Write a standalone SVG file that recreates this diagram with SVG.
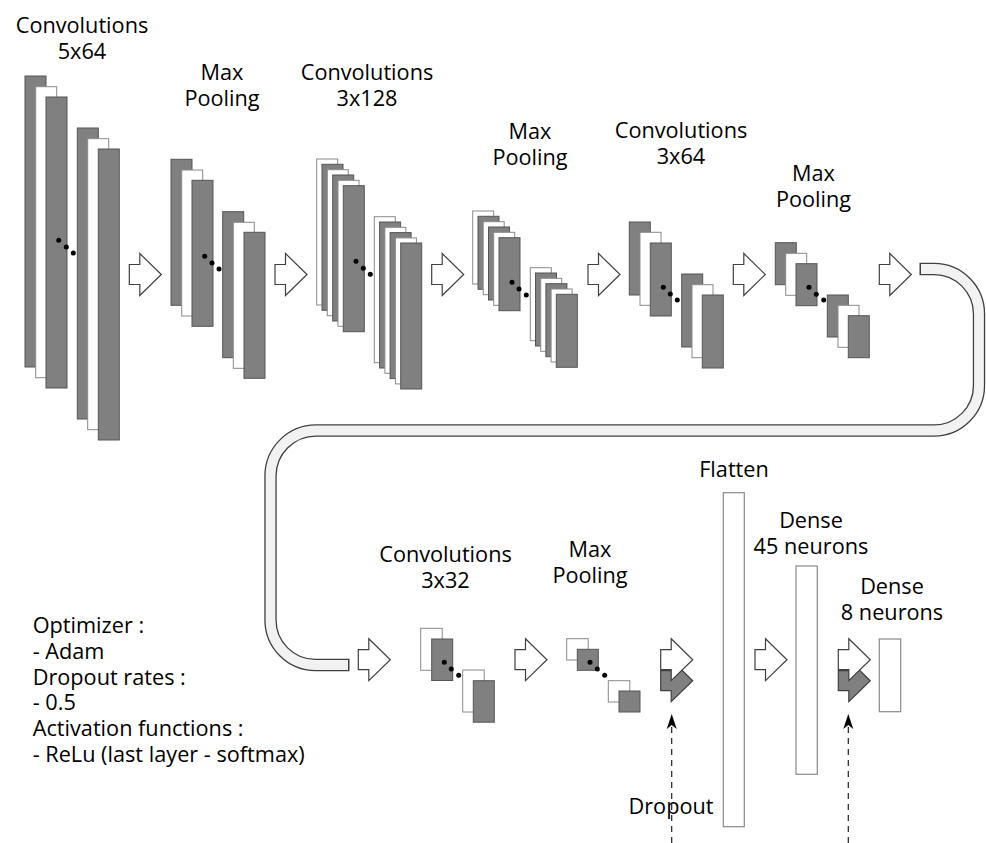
<svg xmlns="http://www.w3.org/2000/svg" xmlns:xlink="http://www.w3.org/1999/xlink" width="986" height="843" viewBox="0 0 986 843">
<style>
text{font-family:"Open Sans","Noto Sans","DejaVu Sans",sans-serif;font-size:21.7px;fill:#000;}
.c{text-anchor:middle;}
.g{fill:#808080;stroke:#555;stroke-width:1;}
.w{fill:#fff;stroke:#8a8a8a;stroke-width:1;}
.v{fill:#fff;stroke:#8a8a8a;stroke-width:1.2;}
.d{fill:#000;}
.ar{fill:#fff;stroke:#404040;stroke-width:1.2;stroke-linejoin:miter;}
.ag{fill:#808080;stroke:#404040;stroke-width:1.2;}
.dash{stroke:#222;stroke-width:1.2;stroke-dasharray:6 5;fill:none;}
</style>
<defs>
<path id="arr" d="M0,-10 H10.5 V-21 L32,0 L10.5,21 V10 H0 Z"/>
<path id="stealth" d="M0,0 L5,15 L0,11 L-5,15 Z"/>
</defs>

<g id="connectors">
<path d="M919.5,269 H934 A45,45 0 0 1 979,314 V385.5 A45,45 0 0 1 934,430.5 H316 A45.5,45.5 0 0 0 270.5,476 V620 A45,45 0 0 0 315.5,665 H349.5" fill="none" stroke="#404040" stroke-width="12.4"/>
<path d="M921,269 H934 A45,45 0 0 1 979,314 V385.5 A45,45 0 0 1 934,430.5 H316 A45.5,45.5 0 0 0 270.5,476 V620 A45,45 0 0 0 315.5,665 H348" fill="none" stroke="#f2f2f2" stroke-width="9.8"/>
<use xlink:href="#arr" class="ar" transform="translate(129.3,274.5)"/>
<use xlink:href="#arr" class="ar" transform="translate(275,274.5)"/>
<use xlink:href="#arr" class="ar" transform="translate(431.7,274.5)"/>
<use xlink:href="#arr" class="ar" transform="translate(588,274.5)"/>
<use xlink:href="#arr" class="ar" transform="translate(733.3,274.5)"/>
<use xlink:href="#arr" class="ar" transform="translate(879.3,274.5)"/>
<use xlink:href="#arr" class="ar" transform="translate(358.3,659.7)"/>
<use xlink:href="#arr" class="ar" transform="translate(515,659.7)"/>
<use xlink:href="#arr" class="ag" transform="translate(660.7,680.7)"/>
<use xlink:href="#arr" class="ar" transform="translate(660.7,659.7)"/>
<use xlink:href="#arr" class="ar" transform="translate(755,659.7)"/>
<use xlink:href="#arr" class="ag" transform="translate(838.3,680.7)"/>
<use xlink:href="#arr" class="ar" transform="translate(838.3,659.7)"/>
<line class="dash" x1="671.7" y1="843" x2="671.7" y2="726"/>
<use xlink:href="#stealth" transform="translate(671.7,714)" fill="#000"/>
<line class="dash" x1="848.3" y1="843" x2="848.3" y2="726"/>
<use xlink:href="#stealth" transform="translate(848.3,714)" fill="#000"/>
</g>

<g id="conv1">
<text class="c" x="82" y="33">Convolutions</text>
<text class="c" x="82" y="59">5x64</text>
<rect class="g" x="25" y="76" width="21" height="291"/>
<rect class="w" x="35.7" y="86.7" width="21" height="291"/>
<rect class="g" x="46" y="97" width="21" height="291"/>
<rect class="g" x="77.3" y="128" width="21" height="291"/>
<rect class="w" x="87.7" y="138.7" width="21" height="291"/>
<rect class="g" x="98.3" y="149" width="21" height="291"/>
<circle class="d" cx="58.7" cy="240.3" r="2.5"/><circle class="d" cx="66.3" cy="247" r="2.5"/><circle class="d" cx="73.3" cy="253" r="2.5"/>
</g>

<g id="pool1">
<text class="c" x="222" y="79.5">Max</text>
<text class="c" x="222" y="105.5">Pooling</text>
<rect class="g" x="171" y="159.3" width="21" height="146"/>
<rect class="w" x="181.7" y="170" width="21" height="146"/>
<rect class="g" x="192" y="180.3" width="21" height="146"/>
<rect class="g" x="222.7" y="211.7" width="21" height="146"/>
<rect class="w" x="233.3" y="222.3" width="21" height="146"/>
<rect class="g" x="244" y="232.3" width="21" height="146"/>
<circle class="d" cx="204.7" cy="256.3" r="2.5"/><circle class="d" cx="212" cy="263" r="2.5"/><circle class="d" cx="219" cy="269" r="2.5"/>
</g>

<g id="conv2">
<text class="c" x="367" y="79.5">Convolutions</text>
<text class="c" x="367" y="105.5">3x128</text>
<rect class="w" x="316.7" y="159" width="21" height="146"/>
<rect class="g" x="322" y="164.3" width="21" height="146"/>
<rect class="w" x="327.3" y="169.7" width="21" height="146"/>
<rect class="g" x="332.7" y="175" width="21" height="146"/>
<rect class="w" x="338" y="180.3" width="21" height="146"/>
<rect class="g" x="343.3" y="185.7" width="21" height="146"/>
<rect class="w" x="374.3" y="216.7" width="21" height="146"/>
<rect class="g" x="379.6" y="222" width="21" height="146"/>
<rect class="w" x="384.9" y="227.3" width="21" height="146"/>
<rect class="g" x="390.1" y="232.6" width="21" height="146"/>
<rect class="w" x="395.4" y="237.9" width="21" height="146"/>
<rect class="g" x="400.7" y="243" width="21" height="146"/>
<circle class="d" cx="356" cy="261.3" r="2.5"/><circle class="d" cx="363.3" cy="268.3" r="2.5"/><circle class="d" cx="370.3" cy="274.3" r="2.5"/>
</g>

<g id="pool2">
<text class="c" x="530" y="139">Max</text>
<text class="c" x="530" y="165">Pooling</text>
<rect class="w" x="472.7" y="211" width="21" height="73"/>
<rect class="g" x="478" y="216.3" width="21" height="73"/>
<rect class="w" x="483.2" y="221.7" width="21" height="73"/>
<rect class="g" x="488.5" y="227" width="21" height="73"/>
<rect class="w" x="493.7" y="232.3" width="21" height="73"/>
<rect class="g" x="499" y="237.7" width="21" height="73"/>
<rect class="w" x="530.3" y="267.7" width="21" height="73"/>
<rect class="g" x="535.5" y="273" width="21" height="73"/>
<rect class="w" x="540.7" y="278.3" width="21" height="73"/>
<rect class="g" x="545.9" y="283.7" width="21" height="73"/>
<rect class="w" x="551.1" y="289" width="21" height="73"/>
<rect class="g" x="556.3" y="294.3" width="21" height="73"/>
<circle class="d" cx="512" cy="282.3" r="2.5"/><circle class="d" cx="519" cy="289" r="2.5"/><circle class="d" cx="526.3" cy="295" r="2.5"/>
</g>

<g id="conv3">
<text class="c" x="681" y="138">Convolutions</text>
<text class="c" x="681" y="164">3x64</text>
<rect class="g" x="629.3" y="222" width="21" height="73"/>
<rect class="w" x="640" y="232.3" width="21" height="73"/>
<rect class="g" x="650.3" y="243" width="21" height="73"/>
<rect class="g" x="681.7" y="274" width="21" height="73"/>
<rect class="w" x="692" y="284.7" width="21" height="73"/>
<rect class="g" x="702.3" y="295" width="21" height="73"/>
<circle class="d" cx="663.3" cy="287.3" r="2.5"/><circle class="d" cx="670.3" cy="294" r="2.5"/><circle class="d" cx="677.3" cy="300" r="2.5"/>
</g>

<g id="pool3">
<text class="c" x="813.5" y="180.5">Max</text>
<text class="c" x="813.5" y="206.5">Pooling</text>
<rect class="g" x="775.3" y="242.7" width="21" height="42"/>
<rect class="w" x="785.7" y="253.3" width="21" height="42"/>
<rect class="g" x="796" y="263.7" width="21" height="42"/>
<rect class="g" x="827.3" y="295" width="21" height="42"/>
<rect class="w" x="838" y="305.3" width="21" height="42"/>
<rect class="g" x="848.3" y="315.7" width="21" height="42"/>
<circle class="d" cx="809" cy="287.3" r="2.5"/><circle class="d" cx="816.3" cy="294.3" r="2.5"/><circle class="d" cx="823.7" cy="300" r="2.5"/>
</g>

<g id="conv4">
<text class="c" x="445.5" y="562">Convolutions</text>
<text class="c" x="445.5" y="587.5">3x32</text>
<rect class="w" x="420.7" y="628.3" width="21.5" height="42"/>
<rect class="g" x="431.7" y="639" width="21" height="41.5"/>
<rect class="w" x="462.7" y="670" width="21.5" height="42"/>
<rect class="g" x="473.3" y="680.7" width="21" height="41.5"/>
<circle class="d" cx="444.3" cy="662.3" r="2.5"/><circle class="d" cx="451.3" cy="669" r="2.5"/><circle class="d" cx="458.7" cy="675.3" r="2.5"/>
</g>

<g id="pool4">
<text class="c" x="590" y="557">Max</text>
<text class="c" x="590" y="583">Pooling</text>
<rect class="w" x="566.7" y="638.7" width="21.5" height="21.3"/>
<rect class="g" x="577.3" y="649.3" width="21" height="21"/>
<rect class="w" x="608.3" y="680.7" width="21.5" height="21.3"/>
<rect class="g" x="619" y="691" width="21" height="21"/>
<circle class="d" cx="590" cy="662.3" r="2.5"/><circle class="d" cx="597.3" cy="669" r="2.5"/><circle class="d" cx="604.7" cy="675.3" r="2.5"/>
</g>

<g id="flatten">
<text class="c" x="734" y="477">Flatten</text>
<rect class="v" x="723.3" y="492.7" width="21" height="334"/>
</g>

<g id="dense45">
<text class="c" x="811" y="527.5">Dense</text>
<text class="c" x="811" y="553.5">45 neurons</text>
<rect class="v" x="796" y="566" width="21.3" height="208.3"/>
</g>

<g id="dense8">
<text class="c" x="892" y="594">Dense</text>
<text class="c" x="892" y="620">8 neurons</text>
<rect class="v" x="879.3" y="639" width="21.4" height="72.7"/>
</g>

<g id="dropout-label">
<text class="c" x="671" y="814">Dropout</text>
</g>

<g id="notes">
<text x="32.7" y="633.3">Optimizer :</text>
<text x="32.7" y="659">- Adam</text>
<text x="32.7" y="684.7">Dropout rates :</text>
<text x="32.7" y="710.4">- 0.5</text>
<text x="32.7" y="736.1">Activation functions :</text>
<text x="32.7" y="761.8">- ReLu (last layer - softmax)</text>
</g>
</svg>
